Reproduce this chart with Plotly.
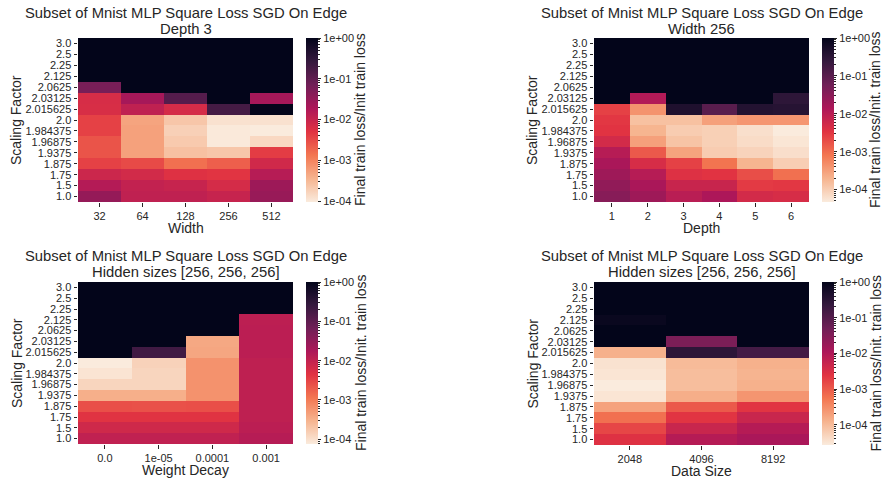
import numpy as np
import plotly.graph_objects as go

scaling = ["3.0", "2.5", "2.25", "2.125", "2.0625", "2.03125", "2.015625", "2.0",
           "1.984375", "1.96875", "1.9375", "1.875", "1.75", "1.5", "1.0"]

widths = ["32", "64", "128", "256", "512"]
loss_width = [
    [1, 1, 1, 1, 1],
    [1, 1, 1, 1, 1],
    [1, 1, 1, 1, 1],
    [1, 1, 1, 1, 1],
    [0.06, 1, 1, 1, 1],
    [0.0066, 0.022, 0.13, 1, 0.022],
    [0.0065, 0.012, 0.007, 0.19, 1],
    [0.0038, 5.0e-4, 2.3e-4, 1.2e-4, 1.2e-4],
    [0.0038, 5.4e-4, 1.8e-4, 1.0e-4, 9.5e-5],
    [0.0026, 5.4e-4, 2.1e-4, 1.0e-4, 1.5e-4],
    [0.0026, 5.4e-4, 2.6e-4, 2.3e-4, 0.0042],
    [0.0038, 0.0032, 0.0015, 0.0021, 0.0080],
    [0.0087, 0.0075, 0.0054, 0.0049, 0.015],
    [0.016, 0.011, 0.010, 0.007, 0.027],
    [0.032, 0.012, 0.012, 0.010, 0.030],
]

depths = ["1", "2", "3", "4", "5", "6"]
loss_depth = [
    [1, 1, 1, 1, 1, 1],
    [1, 1, 1, 1, 1, 1],
    [1, 1, 1, 1, 1, 1],
    [1, 1, 1, 1, 1, 1],
    [1, 1, 1, 1, 1, 1],
    [1, 0.012, 1, 1, 1, 0.30],
    [0.0025, 4.2e-4, 0.45, 0.10, 0.40, 0.37],
    [0.0031, 1.4e-4, 1.4e-4, 3.1e-4, 3.9e-4, 3.9e-4],
    [0.0034, 1.9e-4, 1.05e-4, 9.5e-5, 6.4e-5, 4.7e-5],
    [0.0051, 3.1e-4, 1.3e-4, 9.5e-5, 7.0e-5, 5.4e-5],
    [0.011, 0.0015, 2.9e-4, 1.05e-4, 8.7e-5, 6.5e-5],
    [0.015, 0.0046, 0.0025, 8.5e-4, 1.9e-4, 1.0e-4],
    [0.020, 0.011, 0.0038, 0.0034, 0.0019, 9.3e-4],
    [0.027, 0.015, 0.0068, 0.0068, 0.0029, 0.0031],
    [0.034, 0.020, 0.010, 0.014, 0.0051, 0.0046],
]

weight_decays = ["0.0", "1e-05", "0.0001", "0.001"]
loss_wd = [
    [1, 1, 1, 1],
    [1, 1, 1, 1],
    [1, 1, 1, 1],
    [1, 1, 1, 0.0115],
    [1, 1, 1, 0.012],
    [1, 1, 3.8e-4, 0.012],
    [1, 0.20, 4.0e-4, 0.012],
    [7.6e-5, 1.4e-4, 6.2e-4, 0.011],
    [9.0e-5, 1.3e-4, 6.2e-4, 0.011],
    [1.3e-4, 1.3e-4, 6.2e-4, 0.011],
    [3.3e-4, 3.3e-4, 6.2e-4, 0.011],
    [0.0025, 0.0024, 0.0025, 0.011],
    [0.0045, 0.0045, 0.0045, 0.011],
    [0.0072, 0.0072, 0.0072, 0.012],
    [0.0105, 0.0105, 0.0105, 0.0135],
]

data_sizes = ["2048", "4096", "8192"]
loss_ds = [
    [1, 1, 1],
    [1, 1, 1],
    [1, 1, 1],
    [0.8, 1, 1],
    [1, 1, 1],
    [1, 0.038, 1],
    [1.3e-4, 0.28, 0.15],
    [3.5e-5, 1.0e-4, 1.3e-4],
    [3.2e-5, 9.3e-5, 1.2e-4],
    [2.7e-5, 9.3e-5, 1.3e-4],
    [3.2e-5, 1.4e-4, 2.6e-4],
    [1.9e-4, 0.00105, 0.0024],
    [6.2e-4, 0.0024, 0.005],
    [0.0016, 0.005, 0.0087],
    [0.0027, 0.0087, 0.012],
]

cbar_major_vals = [0, -1, -2, -3, -4]
cbar_major_text = ["1e+00", "1e-01", "1e-02", "1e-03", "1e-04"]

title_line1 = "Subset of Mnist MLP Square Loss SGD On Edge"
title_line2 = ["Depth 3", "Width 256", "Hidden sizes [256, 256, 256]", "Hidden sizes [256, 256, 256]"]
xtitles = ["Width", "Depth", "Weight Decay", "Data Size"]
ytitle = "Scaling Factor"
cbar_titles = ["Final train loss/Init train loss",
               "Final train loss/Init. train loss",
               "Final train loss/Init. train loss",
               "Final train loss/Init. train loss"]

rocket_r = [
    [0.0, "#faebdd"], [1/7, "#f6b48f"], [2/7, "#f37651"], [3/7, "#e13342"],
    [4/7, "#ad1759"], [5/7, "#701f57"], [6/7, "#35193e"], [1.0, "#03051a"],
]

W, H = 883, 483
# pixel boxes: (left, right, top, bottom)
boxes = [(78, 293, 38, 202), (594, 809, 38, 202), (78, 293, 282, 444), (594, 809, 282, 445)]
cbar_left = [306, 822, 306, 822]
cbar_thick = 12
cbar_title_x = [360, 875, 361, 875]
ytitle_x = [16, 532, 17, 532]
title_y = [(13, 29.5), (13, 29.5), (256, 272), (256, 272)]
xtitle_y = [228, 228, 470, 471]

panels = [(widths, loss_width), (depths, loss_depth), (weight_decays, loss_wd), (data_sizes, loss_ds)]

FONT = "Liberation Sans, Arial, sans-serif"
TXT = "#262626"

minor_vals = []
for k in range(-5, 1):
    for m in range(2, 10):
        minor_vals.append(k + np.log10(m))


def px_x(v):
    return v / W


def px_y(v):
    return 1 - v / H


fig = go.Figure()
layout = {}
annotations = []
for i, ((xcats, z), (l, r, t, b)) in enumerate(zip(panels, boxes)):
    n = i + 1
    zl = np.log10(np.array(z, dtype=float))
    zmin, zmax = float(zl.min()), float(zl.max())
    xa = "x" if n == 1 else f"x{n}"
    ya = "y" if n == 1 else f"y{n}"
    cy = px_y((t + b) / 2)
    common = dict(
        z=zl, x=xcats, y=scaling, xaxis=xa, yaxis=ya, zmin=zmin, zmax=zmax,
        colorscale=rocket_r, hoverinfo="skip",
    )
    mv = [v for v in minor_vals if zmin <= v <= zmax]
    cb_common = dict(
        x=px_x(cbar_left[i]), xanchor="left", xpad=0, ypad=0,
        y=cy, yanchor="middle", len=(b - t), lenmode="pixels",
        thickness=cbar_thick, outlinewidth=0, tickmode="array",
    )
    fig.add_trace(go.Heatmap(**common, colorbar=dict(
        **cb_common, tickvals=mv, ticktext=["" for _ in mv],
        ticks="outside", ticklen=2, tickwidth=0.8, tickcolor=TXT,
    )))
    fig.add_trace(go.Heatmap(**common, colorbar=dict(
        **cb_common, tickvals=cbar_major_vals, ticktext=cbar_major_text,
        ticks="outside", ticklen=3.5, tickwidth=0.8, tickcolor=TXT,
        tickfont=dict(family=FONT, size=11, color=TXT),
    )))
    layout["xaxis" if n == 1 else f"xaxis{n}"] = dict(
        domain=[px_x(l), px_x(r)], anchor=ya, type="category",
        tickmode="array", tickvals=xcats, ticktext=xcats,
        ticks="outside", ticklen=3.5, tickcolor=TXT, tickwidth=0.8,
        tickfont=dict(family=FONT, size=11, color=TXT), showgrid=False, zeroline=False,
        showline=False, automargin=False, fixedrange=True,
    )
    layout["yaxis" if n == 1 else f"yaxis{n}"] = dict(
        domain=[px_y(b), px_y(t)], anchor=xa, type="category",
        autorange="reversed", tickmode="array", tickvals=scaling, ticktext=scaling,
        ticks="outside", ticklen=3.5, tickcolor=TXT, tickwidth=0.8,
        tickfont=dict(family=FONT, size=11, color=TXT), showgrid=False, zeroline=False,
        showline=False, automargin=False, fixedrange=True,
    )
    cx = (l + r) / 2
    annotations.append(dict(
        text=title_line1, x=px_x(cx), y=px_y(title_y[i][0]), xref="paper", yref="paper",
        xanchor="center", yanchor="middle", showarrow=False,
        font=dict(family=FONT, size=14.8, color=TXT),
    ))
    annotations.append(dict(
        text=title_line2[i], x=px_x(cx), y=px_y(title_y[i][1]), xref="paper", yref="paper",
        xanchor="center", yanchor="middle", showarrow=False,
        font=dict(family=FONT, size=14.8, color=TXT),
    ))
    annotations.append(dict(
        text=xtitles[i], x=px_x(cx), y=px_y(xtitle_y[i]), xref="paper", yref="paper",
        xanchor="center", yanchor="middle", showarrow=False,
        font=dict(family=FONT, size=14, color=TXT),
    ))
    annotations.append(dict(
        text=ytitle, x=px_x(ytitle_x[i]), y=cy, xref="paper", yref="paper",
        xanchor="center", yanchor="middle", showarrow=False, textangle=-90,
        font=dict(family=FONT, size=14, color=TXT),
    ))
    annotations.append(dict(
        text=cbar_titles[i], x=px_x(cbar_title_x[i]), y=cy, xref="paper", yref="paper",
        xanchor="center", yanchor="middle", showarrow=False, textangle=-90,
        font=dict(family=FONT, size=14, color=TXT),
    ))

fig.update_layout(
    width=W, height=H, margin=dict(l=0, r=0, t=0, b=0, autoexpand=False),
    paper_bgcolor="white", plot_bgcolor="white",
    annotations=annotations, **layout,
)
fig.write_html("out.html", config={"displayModeBar": False},
               post_script="document.body.style.margin='0';")
